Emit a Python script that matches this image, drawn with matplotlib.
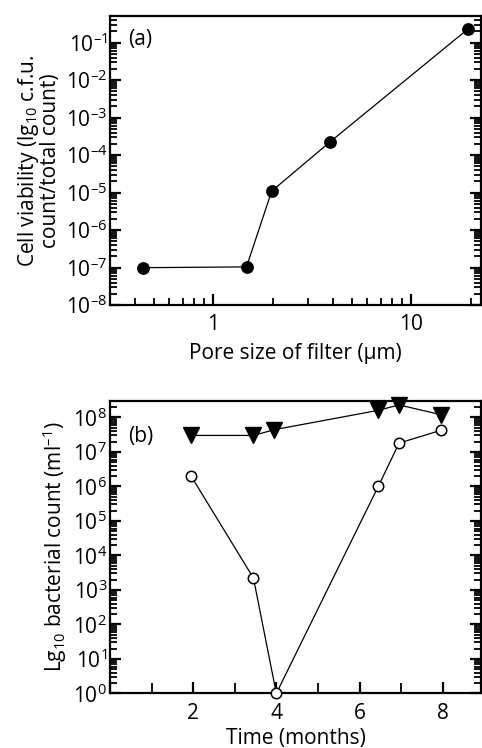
import math

import matplotlib
matplotlib.use("Agg")
import matplotlib.pyplot as plt
from matplotlib.ticker import LogLocator, FuncFormatter, MultipleLocator, NullFormatter

plt.rcParams["font.family"] = ["Open Sans", "DejaVu Sans"]
plt.rcParams["mathtext.fontset"] = "custom"
plt.rcParams["mathtext.rm"] = "Open Sans"
plt.rcParams["mathtext.it"] = "Open Sans:italic"
plt.rcParams["mathtext.default"] = "regular"

# panel (a): viability vs filter pore size
pore_size = [0.44, 1.47, 1.97, 3.9, 19.3]
viability = [1.0e-7, 1.05e-7, 1.1e-5, 2.3e-4, 0.23]

# panel (b): bacterial counts over time
tri_time = [1.95, 3.45, 3.95, 6.45, 6.95, 7.95]
tri_count = [3.0e7, 3.0e7, 4.4e7, 1.6e8, 2.3e8, 1.2e8]
circ_time = [1.95, 3.45, 4.0, 6.45, 6.95, 7.95]
circ_count = [2.0e6, 2.2e3, 1.0, 1.0e6, 1.8e7, 4.2e7]

FS = 15


def pow_fmt(v, pos):
    e = int(round(math.log10(v)))
    if e < 0:
        return "$10^{\u2013%d}$" % (-e)
    return "$10^{%d}$" % e


def style_log_y(ax):
    ax.yaxis.set_major_locator(LogLocator(base=10, numticks=20))
    ax.yaxis.set_minor_locator(LogLocator(base=10, subs=range(2, 10), numticks=40))
    ax.yaxis.set_major_formatter(FuncFormatter(pow_fmt))
    ax.yaxis.set_minor_formatter(NullFormatter())
    for s in ax.spines.values():
        s.set_linewidth(1.6)
    ax.tick_params(which="both", direction="in", left=True, right=True,
                   top=False, bottom=True, labelsize=FS, width=1.3, pad=2)
    ax.tick_params(which="major", length=8, width=1.6)
    ax.tick_params(which="minor", length=5)


fig = plt.figure(figsize=(4.82, 7.48), dpi=100)

# ---- (a)
ax1 = fig.add_axes([0.228, 0.592, 0.770, 0.386])
ax1.plot(pore_size, viability, "-", color="black", lw=0.9,
         marker="o", ms=8.2, mfc="black", mec="black", clip_on=False, zorder=3)
ax1.set_xscale("log")
ax1.set_yscale("log")
ax1.set_xlim(0.3, 22.5)
ax1.set_ylim(1e-8, 0.5)
style_log_y(ax1)
ax1.xaxis.set_major_formatter(FuncFormatter(lambda v, p: "%g" % v))
ax1.xaxis.set_minor_formatter(NullFormatter())
ax1.tick_params(axis="x", pad=6)
ax1.set_xlabel("Pore size of filter (\u03bcm)", fontsize=FS, labelpad=6)
ax1.set_ylabel("Cell viability (lg$_{10}$ c.f.u.\ncount/total count)",
               fontsize=FS, labelpad=3, linespacing=0.95)
ax1.text(0.05, 0.90, "(a)", transform=ax1.transAxes, fontsize=FS)

# ---- (b)
ax2 = fig.add_axes([0.228, 0.073, 0.770, 0.391])
ax2.plot(tri_time, tri_count, "-", color="black", lw=0.9,
         marker="v", ms=12, mfc="black", mec="black", clip_on=False, zorder=3)
ax2.plot(circ_time, circ_count, "-", color="black", lw=0.9,
         marker="o", ms=7.5, mfc="white", mec="black", mew=1.1,
         clip_on=False, zorder=3)
ax2.set_yscale("log")
ax2.set_xlim(0, 8.92)
ax2.set_ylim(1, 3e8)
style_log_y(ax2)
ax2.xaxis.set_major_locator(MultipleLocator(2))
ax2.xaxis.set_minor_locator(MultipleLocator(1))
ax2.xaxis.set_major_formatter(FuncFormatter(lambda v, p: "" if v == 0 else "%d" % v))
ax2.tick_params(axis="x", which="minor", length=7, width=1.3)
ax2.tick_params(axis="x", pad=7)
ax2.set_xlabel("Time (months)", fontsize=FS, labelpad=3)
ax2.set_ylabel("Lg$_{10}$ bacterial count (ml$^{\u20131}$)", fontsize=FS, labelpad=3)
ax2.text(0.05, 0.86, "(b)", transform=ax2.transAxes, fontsize=FS)

fig.savefig("out.png", dpi=100)
